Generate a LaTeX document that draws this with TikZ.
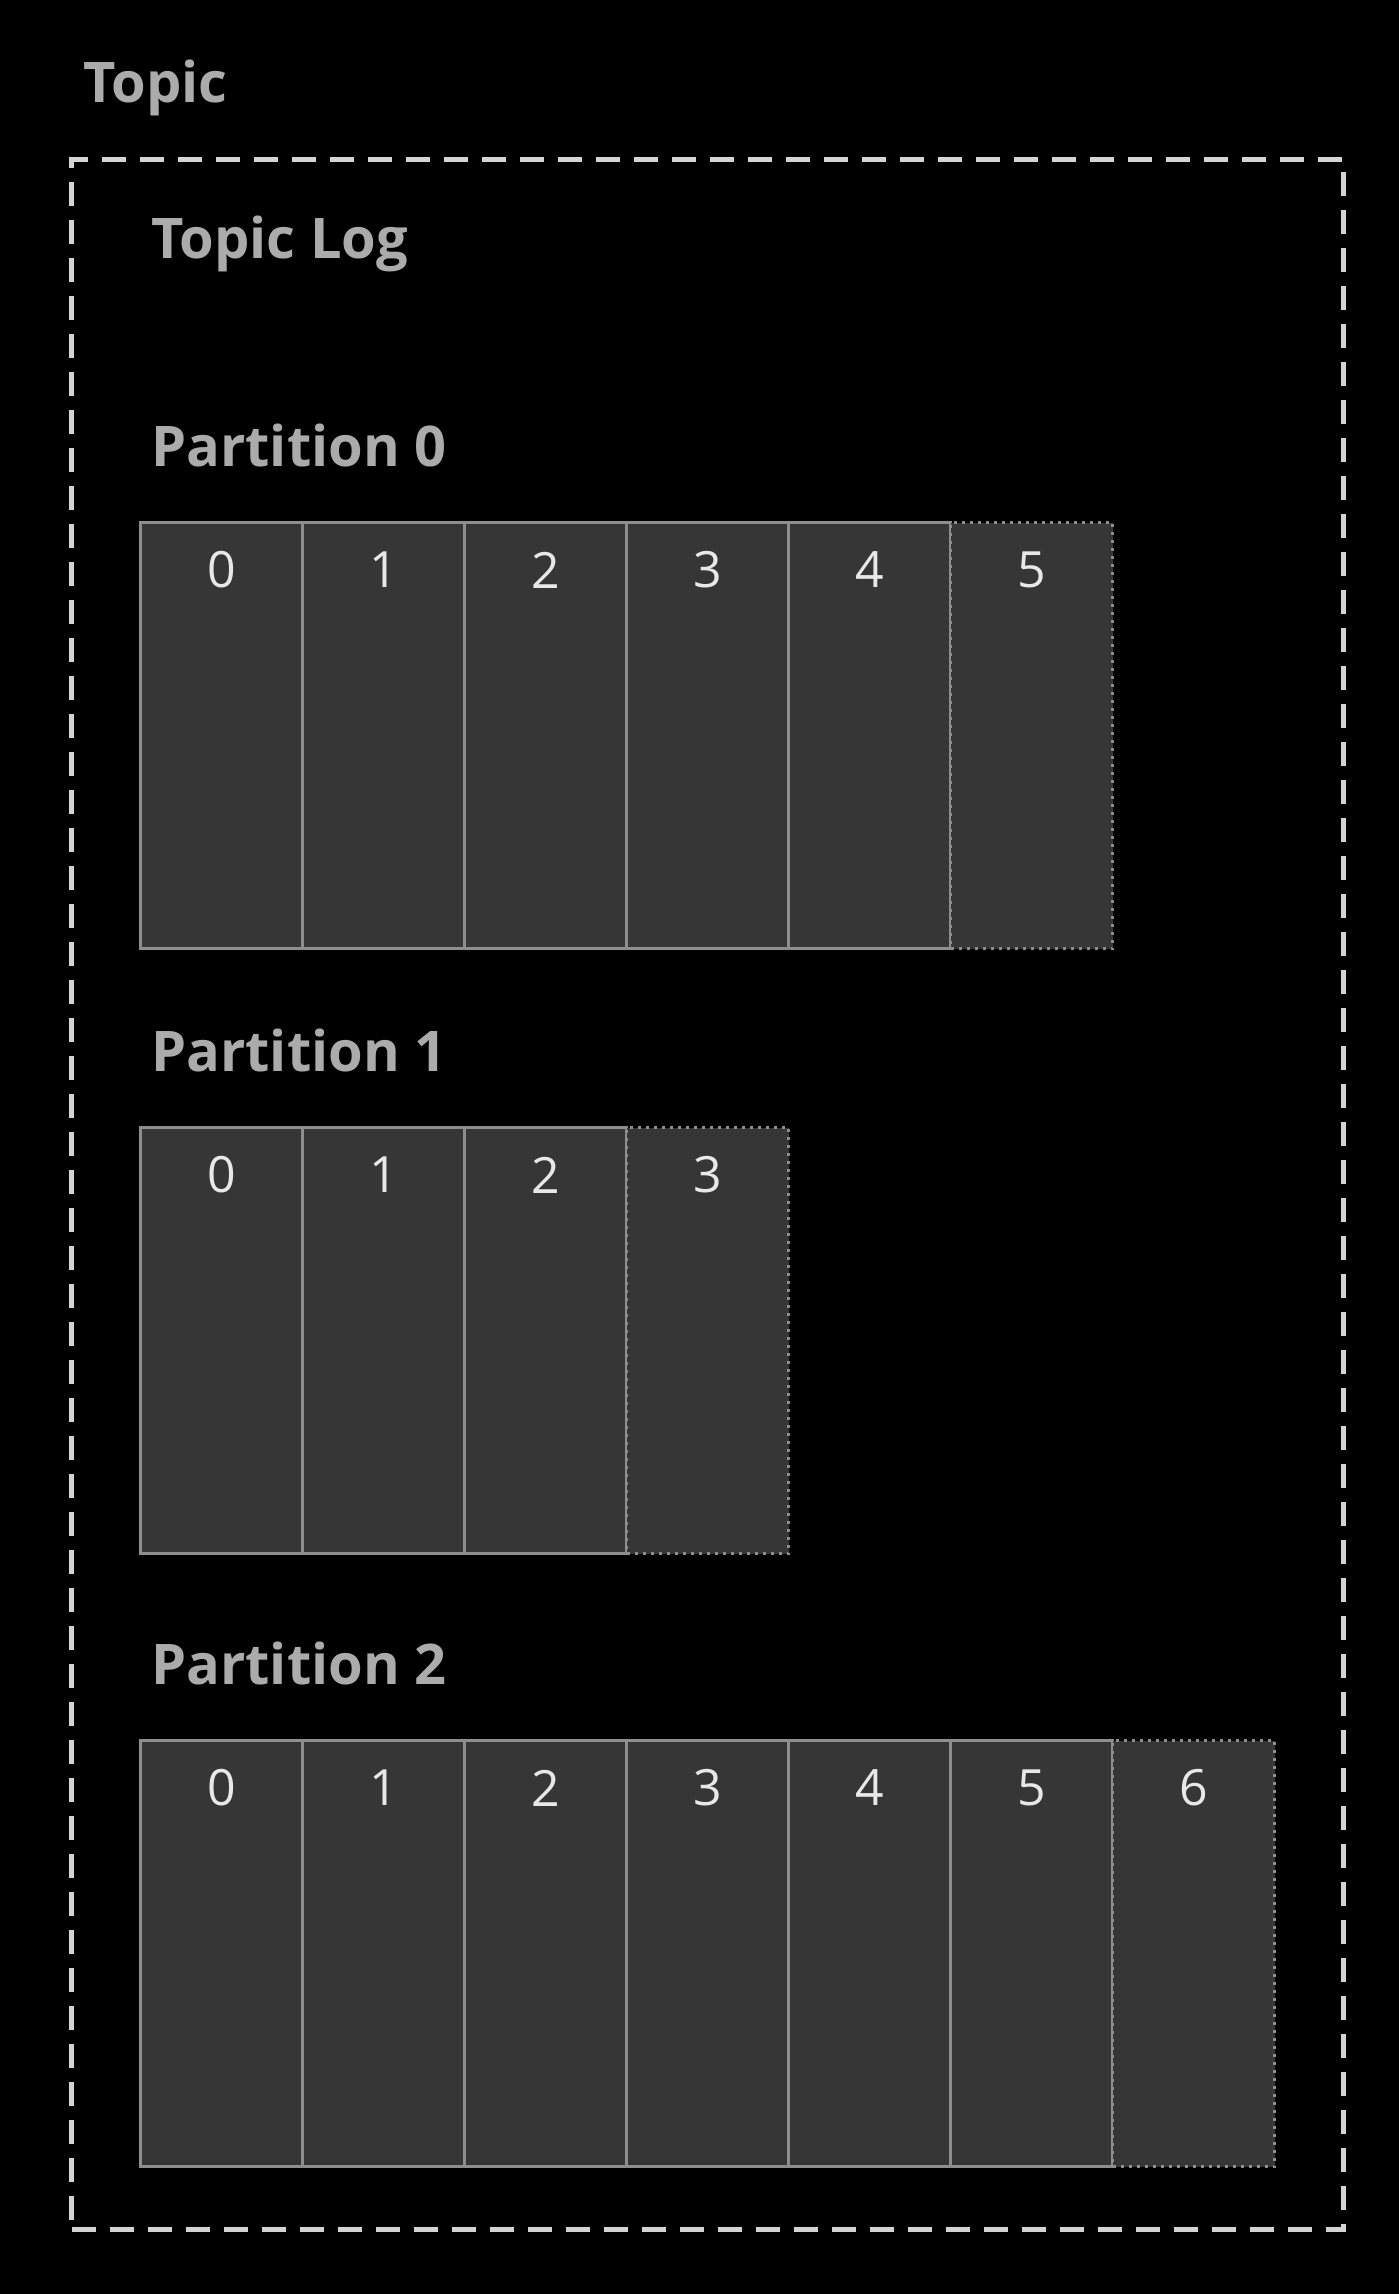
\documentclass[tikz,border=0pt]{standalone}
\usepackage{fontspec}
\setmainfont{Open Sans}
\usetikzlibrary{calc}
\definecolor{cellfill}{HTML}{363636}
\definecolor{cellline}{HTML}{8E8E8E}
\definecolor{headcol}{HTML}{ABABAB}
\definecolor{digitcol}{HTML}{E8E8E8}
\definecolor{boxline}{HTML}{D4D4D4}
\tikzset{
  heading/.style={anchor=base west, inner sep=0pt, text=headcol,
    font=\fontsize{56}{68}\selectfont\bfseries},
  digit/.style={inner sep=0pt, text=digitcol, font=\fontsize{50}{60}\selectfont},
  oldcell/.style={draw=cellline, fill=cellfill, line width=3pt,
    minimum width=162pt, minimum height=426pt, inner sep=0pt, anchor=north west},
  newcell/.style={oldcell, dash pattern=on 3pt off 5pt},
  topicframe/.style={draw=boxline, line width=5pt, dash pattern=on 24pt off 14pt,
    minimum width=1272pt, minimum height=2070pt, inner sep=0pt, anchor=north west},
}
\begin{document}
\begin{tikzpicture}[x=1pt,y=-1pt]
\useasboundingbox (0,0) rectangle (1398,2294);
\fill[black] (-10,-10) rectangle (1410,2310);
\node[heading] (topic) at (83,102) {Topic};
\node[topicframe] (topicbox) at (69,157) {};
\node[heading] (topiclog) at (151,258) {Topic Log};
\foreach \r/\n/\ty in {0/6/521,1/4/1126,2/7/1739}{
  \node[heading] (plabel\r) at (151,{\ty-55}) {Partition \r};
  \pgfmathtruncatemacro{\prev}{\n-2}
  \pgfmathtruncatemacro{\last}{\n-1}
  \foreach \i in {0,...,\prev}{
    \node[oldcell] (p\r c\i) at ({139+162*\i},\ty) {};
    \node[digit] (p\r d\i) at ($(p\r c\i.north)+(0,49)$) {\i};
  }
  \node[newcell] (p\r c\last) at ({139+162*\last},\ty) {};
  \node[digit] (p\r d\last) at ($(p\r c\last.north)+(0,49)$) {\last};
}
\end{tikzpicture}
\end{document}
